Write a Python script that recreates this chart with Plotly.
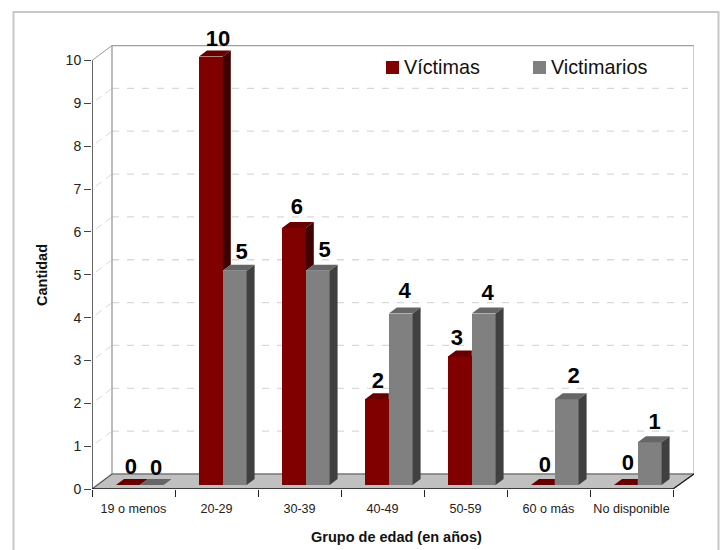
import plotly.graph_objects as go

categories = ["19 o menos", "20-29", "30-39", "40-49", "50-59", "60 o más", "No disponible"]
victimas = [0, 10, 6, 2, 3, 0, 0]
victimarios = [0, 5, 5, 4, 4, 2, 1]
y_ticks = list(range(0, 11))

# nudge of each value label, in pixels (x from its bar's centre, y upwards)
label_shift_red = [3, 7, 3, 1, -3, 2, 2]
label_shift_gry = [4.5, 7, 7, 4, 4, 7, 5]
label_lift_red = [-1, -2, 1, -1, -1, 1, 3]
label_lift_gry = [-2, -1, 1, 3, 1, 4, 1]

# pixel frame of the drawing
L, T, R, B = 92, 45, 694, 489
U_X, U_Y = 83.0, 42.85          # pixels per category / per count
x_max, y_max = (R - L) / U_X, (B - T) / U_Y
WALL_X, WALL_Y = 20 / U_X, 15 / U_Y      # depth of the box
BAR_X, BAR_Y = 8 / U_X, 6 / U_Y          # depth of a bar
BASE = 4 / U_Y
OFFSET = 24 / U_X
W = 23.8 / U_X
N = len(categories)

RED, RED_TOP, RED_SIDE = "#800000", "#660000", "#400000"
GRY, GRY_TOP, GRY_SIDE = "#808080", "#666666", "#404040"
FONT = "Liberation Sans, Arial, sans-serif"

fig = go.Figure()
pos_red = [i + OFFSET + W / 2 for i in range(N)]
pos_gry = [i + OFFSET + W * 1.5 for i in range(N)]
fig.add_bar(x=pos_red, y=victimas, base=BASE, width=W, name="Víctimas", marker=dict(color=RED, line_width=0))
fig.add_bar(x=pos_gry, y=victimarios, base=BASE, width=W, name="Victimarios", marker=dict(color=GRY, line_width=0))


def poly(xs, ys, color):
    fig.add_scatter(x=xs + xs[:1], y=ys + ys[:1], mode="lines", fill="toself", fillcolor=color,
                    line=dict(width=0, color=color), hoverinfo="skip", showlegend=False)


for i in range(N):
    a, b = victimas[i], victimarios[i]
    x0, x1, x2 = i + OFFSET, i + OFFSET + W, i + OFFSET + 2 * W
    ya, yb = a + BASE, b + BASE
    # red bar, hidden where the grey bar stands in front of it
    if a >= b:
        poly([x0, x1, x1 + BAR_X, x0 + BAR_X], [ya, ya, ya + BAR_Y, ya + BAR_Y], RED_TOP)
        if a > b:
            poly([x1, x1 + BAR_X, x1 + BAR_X, x1], [yb, yb + BAR_Y, ya + BAR_Y, ya], RED_SIDE)
    else:
        poly([x0, x1, x1, x0 + BAR_X], [ya, ya, ya + BAR_Y, ya + BAR_Y], RED_TOP)
    # grey bar
    poly([x1, x2, x2 + BAR_X, x1 + BAR_X], [yb, yb, yb + BAR_Y, yb + BAR_Y], GRY_TOP)
    if b > 0:
        poly([x2, x2 + BAR_X, x2 + BAR_X, x2], [BASE, BASE + BAR_Y, yb + BAR_Y, yb], GRY_SIDE)

LAB_DY = 1 / U_Y
for pos, vals, shift, lift in ((pos_red, victimas, label_shift_red, label_lift_red),
                               (pos_gry, victimarios, label_shift_gry, label_lift_gry)):
    fig.add_scatter(x=[p + s / U_X for p, s in zip(pos, shift)],
                    y=[v + BASE + BAR_Y + LAB_DY + d / U_Y for v, d in zip(vals, lift)],
                    mode="text", text=[str(v) for v in vals], textposition="top center",
                    textfont=dict(family=FONT, size=22, color="#000000", weight="bold"),
                    cliponaxis=False, hoverinfo="skip", showlegend=False)

shapes = []


def line(x0, y0, x1, y1, color, width, dash="solid"):
    shapes.append(dict(type="line", xref="x", yref="y", x0=x0, y0=y0, x1=x1, y1=y1, layer="below",
                       line=dict(color=color, width=width, dash=dash)))


# floor
shapes.append(dict(type="path", xref="x", yref="y", layer="below", line_width=0, fillcolor="#c0c0c0",
                   path=f"M0,0 L{WALL_X},{WALL_Y} L{x_max},{WALL_Y} L{x_max - WALL_X},0 Z"))
# grid
for v in y_ticks[1:-1]:
    line(WALL_X, v + WALL_Y, x_max - 6 / U_X, v + WALL_Y, "#d9d9d9", 1.3, "7px,8px")
    line(4 / U_X, v + 3 / U_Y, WALL_X, v + WALL_Y, "#d9d9d9", 1, "7px,5px")
# walls
line(WALL_X, WALL_Y, WALL_X, 10 + WALL_Y, "#999999", 1.3)
line(WALL_X, 10 + WALL_Y, x_max, 10 + WALL_Y, "#a0a0a0", 1.3)
line(x_max, WALL_Y, x_max, y_max, "#bdbdbd", 1.5)
line(0, 10, WALL_X, 10 + WALL_Y, "#999999", 1)
line(WALL_X, WALL_Y, x_max, WALL_Y, "#777777", 1.6)
# front axes
line(0, 0, WALL_X, WALL_Y, "#555555", 1.2)
line(0, 0, 0, 10, "#555555", 1.8)
line(0, 0, N, 0, "#111111", 1.4)
line(N, 0, x_max, WALL_Y, "#111111", 1.2)


def px(x):
    return (x - L) / (R - L)


def py(y):
    return (B - y) / (B - T)


# outer frame
shapes.append(dict(type="path", xref="paper", yref="paper", line=dict(color="#c8c8c8", width=2),
                   path=f"M{px(13.5)},{py(550)} L{px(13.5)},{py(12)} L{px(718.5)},{py(12)} L{px(718.5)},{py(550)}"))
# legend keys
for x_key in (386, 533):
    color = RED if x_key == 386 else GRY
    shapes.append(dict(type="rect", xref="paper", yref="paper", line_width=0, fillcolor=color,
                       x0=px(x_key), x1=px(x_key + 13), y0=py(74), y1=py(61)))

annotations = []


def note(text, x, y, size, bold=False, angle=0, xanchor="center"):
    annotations.append(dict(text=text, xref="paper", yref="paper", x=px(x), y=py(y), showarrow=False,
                            xanchor=xanchor, yanchor="middle", textangle=angle,
                            font=dict(family=FONT, size=size, color="#111111", weight="bold" if bold else "normal")))


note("Víctimas", 402, 67, 19.8, xanchor="left")
note("Victimarios", 549, 67, 19.8, xanchor="left")
note("Cantidad", 42, 275, 14.5, bold=True, angle=-90)
note("Grupo de edad (en años)", 396, 537, 14.5, bold=True)

fig.update_layout(
    width=720, height=550, margin=dict(l=L, r=720 - R, t=T, b=550 - B),
    paper_bgcolor="white", plot_bgcolor="white", showlegend=False, barmode="overlay", bargap=0,
    shapes=shapes, annotations=annotations, font=dict(family=FONT, color="#222222"),
)
fig.update_xaxes(range=[0, x_max], showgrid=False, zeroline=False, showline=False,
                 tickmode="array", tickvals=[i + 0.5 for i in range(N)], ticktext=categories, ticks="",
                 ticklabelstandoff=10, tickfont=dict(family=FONT, size=12.6, color="#222222"),
                 minor=dict(tickmode="array", tickvals=list(range(N + 1)), ticks="outside", ticklen=7,
                            tickcolor="#222222", tickwidth=1, showgrid=False))
fig.update_yaxes(range=[0, y_max], showgrid=False, zeroline=False, showline=False,
                 tickmode="array", tickvals=y_ticks, ticks="outside", ticklen=7, tickwidth=1.4,
                 tickcolor="#444444", tickfont=dict(family=FONT, size=14, color="#222222"))
fig.write_html("out.html", config={"displayModeBar": False},
               post_script="document.body.style.margin='0';document.body.style.overflow='hidden';")
